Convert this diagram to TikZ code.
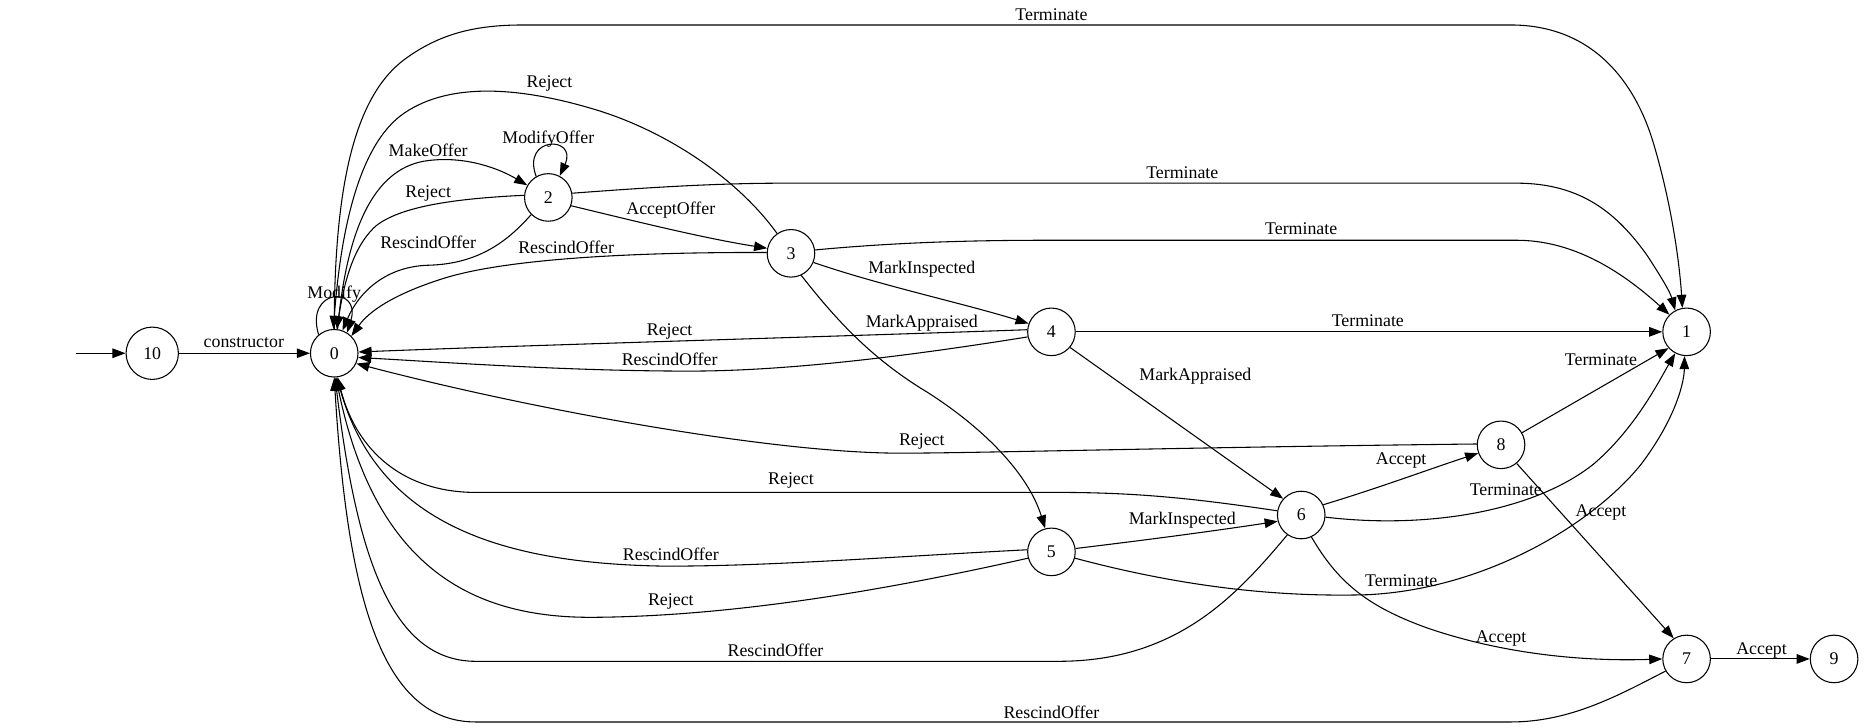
\documentclass[tikz,border=0pt]{standalone}
\usepackage{fontspec}
\setmainfont{Liberation Serif}
\usetikzlibrary{arrows.meta}
\begin{document}
\begin{tikzpicture}[x=1pt,y=-1pt,
  st/.style={circle,draw,line width=0.9pt,minimum size=40pt,inner sep=0pt,font=\fontsize{15}{17}\selectfont},
  lbl/.style={inner sep=0pt,font=\fontsize{15}{17}\selectfont},
  arr/.style={line width=0.9pt,-{Triangle[length=11pt,width=8pt]}}]
\useasboundingbox (0,0) rectangle (1568,612);
% nodes
\coordinate (s) at (64,297);
\node[st,minimum size=44pt] (n10) at (128,297) {10};
\node[st] (n0) at (281,297) {0};
\node[st] (n2) at (461,166) {2};
\node[st] (n3) at (665,213) {3};
\node[st] (n4) at (884,279) {4};
\node[st] (n1) at (1418,279) {1};
\node[st] (n8) at (1262,374) {8};
\node[st] (n6) at (1094,433) {6};
\node[st] (n5) at (884,464) {5};
\node[st] (n7) at (1418,554) {7};
\node[st] (n9) at (1542,554) {9};
% edges
\draw[arr] (s) -- (n10);
\draw[arr] (n10) -- (n0);
\draw[arr] (n0.130) .. controls (256,242) and (304,240) .. (n0.58);
\draw[arr] (n0.82) .. controls (292,185) and (318,140) .. (360,135) .. controls (392,131) and (420,142) .. (n2.150);
\draw[arr] (n2.120) .. controls (438,114) and (486,114) .. (n2.62);
\draw[arr] (n2.175) .. controls (380,167) and (336,174) .. (316,190) .. controls (296,208) and (289,240) .. (n0.84);
\draw[arr] (n2.225) .. controls (425,205) and (400,222) .. (360,223) .. controls (325,224) and (302,245) .. (n0.70);
\draw[arr] (n2.340) .. controls (530,185) and (590,200) .. (n3.168);
\draw[arr] (n2.10) .. controls (540,158) and (600,154) .. (660,154) -- (1275,154) .. controls (1330,154) and (1360,180) .. (1385,215) .. controls (1396,232) and (1404,245) .. (n1.118);
\draw[arr] (n0.90) .. controls (281,150) and (300,80) .. (340,50) .. controls (370,28) and (400,21) .. (440,21) -- (1270,21) .. controls (1340,21) and (1375,70) .. (1390,120) .. controls (1405,170) and (1412,220) .. (n1.100);
\draw[arr] (n3.125) .. controls (620,150) and (560,110) .. (500,92) .. controls (440,74) and (380,68) .. (340,95) .. controls (300,122) and (286,200) .. (n0.92);
\draw[arr] (n3.178) .. controls (560,212) and (430,215) .. (370,235) .. controls (330,248) and (310,262) .. (n0.45);
\draw[arr] (n3.8) .. controls (740,205) and (800,202) .. (880,202) -- (1275,202) .. controls (1320,202) and (1360,225) .. (n1.135);
\draw[arr] (n3.338) .. controls (740,240) and (810,255) .. (n4.160);
\draw[arr] (n3.295) .. controls (700,265) and (730,300) .. (780,330) .. controls (830,362) and (865,400) .. (n5.105);
\draw[arr] (n4.175) .. controls (700,283) and (450,290) .. (n0.3);
\draw[arr] (n4.192) .. controls (760,300) and (660,312) .. (580,312) .. controls (480,312) and (380,305) .. (n0.-10);
\draw[arr] (n4) -- (n1);
\draw[arr] (n4.-40) -- (n6.138);
\draw[arr] (n8.178) .. controls (1000,376) and (820,381) .. (757,381) .. controls (650,381) and (450,345) .. (n0.-25);
\draw[arr] (n6.170) .. controls (1010,420) and (960,414) .. (890,414) -- (400,414) .. controls (340,414) and (300,380) .. (n0.-82);
\draw[arr] (n5.175) .. controls (750,468) and (650,476) .. (560,476) .. controls (420,474) and (318,440) .. (n0.-84);
\draw[arr] (n5.195) .. controls (750,495) and (620,518) .. (500,519) .. controls (400,520) and (316,480) .. (n0.-86);
\draw[arr] (n6.235) .. controls (1040,500) and (990,556) .. (890,556) -- (400,556) .. controls (330,556) and (300,470) .. (n0.-88);
\draw[arr] (n7.210) .. controls (1360,585) and (1320,607) .. (1270,607) -- (400,607) .. controls (320,607) and (292,500) .. (n0.-90);
\draw[arr] (n5.8) .. controls (980,452) and (1030,445) .. (n6.195);
\draw[arr] (n5.-15) .. controls (1000,495) and (1080,502) .. (1150,500) .. controls (1250,495) and (1340,440) .. (1380,390) .. controls (1410,350) and (1416,320) .. (n1.-95);
\draw[arr] (n6.25) .. controls (1160,410) and (1200,395) .. (n8.200);
\draw[arr] (n6.-5) .. controls (1200,445) and (1290,430) .. (1340,390) .. controls (1375,360) and (1395,320) .. (n1.-118);
\draw[arr] (n6.-65) .. controls (1125,490) and (1150,510) .. (1200,528) .. controls (1270,552) and (1340,556) .. (n7.180);
\draw[arr] (n8.30) -- (n1.222);
\draw[arr] (n8.-50) -- (n7.122);
\draw[arr] (n7) -- (n9);
% labels
\node[lbl] (l1) at (205,288) {constructor};
\node[lbl] (l2) at (281,247) {Modify};
\node[lbl] (l3) at (360,126) {MakeOffer};
\node[lbl] (l4) at (461,117) {ModifyOffer};
\node[lbl] (l5) at (360,163) {Reject};
\node[lbl] (l6) at (360,204) {RescindOffer};
\node[lbl] (l7) at (564,177) {AcceptOffer};
\node[lbl] (l8) at (994,145) {Terminate};
\node[lbl] (l9) at (884,12) {Terminate};
\node[lbl] (l10) at (462,70) {Reject};
\node[lbl] (l11) at (476,208) {RescindOffer};
\node[lbl] (l12) at (1094,192) {Terminate};
\node[lbl] (l13) at (775,226) {MarkInspected};
\node[lbl] (l14) at (775,272) {MarkAppraised};
\node[lbl] (l15) at (563,279) {Reject};
\node[lbl] (l16) at (563,302) {RescindOffer};
\node[lbl] (l17) at (1150,270) {Terminate};
\node[lbl] (l18) at (1005,316) {MarkAppraised};
\node[lbl] (l19) at (775,371) {Reject};
\node[lbl] (l20) at (665,404) {Reject};
\node[lbl] (l21) at (564,466) {RescindOffer};
\node[lbl] (l22) at (564,506) {Reject};
\node[lbl] (l23) at (652,547) {RescindOffer};
\node[lbl] (l24) at (884,599) {RescindOffer};
\node[lbl] (l25) at (994,437) {MarkInspected};
\node[lbl] (l26) at (1178,488) {Terminate};
\node[lbl] (l27) at (1178,387) {Accept};
\node[lbl] (l28) at (1266,412) {Terminate};
\node[lbl] (l29) at (1262,537) {Accept};
\node[lbl] (l30) at (1346,302) {Terminate};
\node[lbl] (l31) at (1346,431) {Accept};
\node[lbl] (l32) at (1481,547) {Accept};
\end{tikzpicture}
\end{document}
